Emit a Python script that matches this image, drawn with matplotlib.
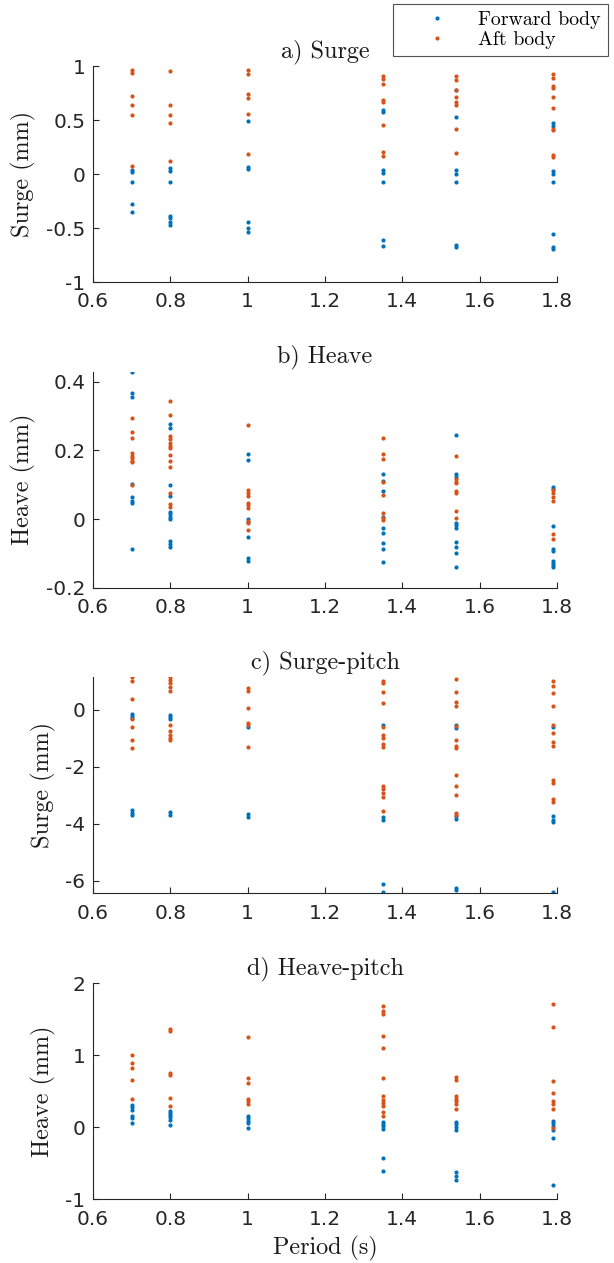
import matplotlib
matplotlib.use('Agg')
import matplotlib.pyplot as plt
from matplotlib.ticker import FuncFormatter

periods = [0.7, 0.8, 1.0, 1.35, 1.54, 1.79]

# a) surge, per period: forward body / aft body
surge_fwd = [[0.037, 0.02, -0.078, -0.276, -0.35],
             [0.056, 0.031, -0.071, -0.39, -0.41, -0.44, -0.47],
             [0.49, 0.062, 0.047, -0.44, -0.50, -0.54],
             [0.59, 0.57, 0.04, 0.006, -0.07, -0.61, -0.667],
             [0.775, 0.524, 0.04, 0.0, -0.074, -0.654, -0.68],
             [0.47, 0.446, 0.025, 0.0, -0.071, -0.555, -0.68, -0.695]]
surge_aft = [[0.967, 0.937, 0.72, 0.64, 0.55, 0.078],
             [0.95, 0.64, 0.546, 0.47, 0.118],
             [0.967, 0.93, 0.74, 0.70, 0.56, 0.19],
             [0.91, 0.88, 0.834, 0.69, 0.67, 0.45, 0.2, 0.164],
             [0.91, 0.874, 0.778, 0.716, 0.67, 0.642, 0.415, 0.198],
             [0.93, 0.887, 0.815, 0.797, 0.716, 0.61, 0.42, 0.405, 0.18, 0.16]]

# b) heave
heave_fwd = [[0.428, 0.366, 0.354, 0.103, 0.065, 0.052, 0.046, -0.087],
             [0.277, 0.264, 0.099, 0.067, 0.02, 0.014, 0.006, 0.0, -0.063, -0.072, -0.081],
             [0.19, 0.173, 0.001, -0.008, -0.052, -0.115, -0.121],
             [0.132, 0.112, 0.083, 0.006, -0.025, -0.042, -0.071, -0.086, -0.125],
             [0.246, 0.13, 0.121, -0.013, -0.018, -0.026, -0.066, -0.081, -0.099, -0.14],
             [0.093, 0.088, -0.021, -0.088, -0.094, -0.122, -0.128, -0.134, -0.139]]
heave_aft = [[0.293, 0.253, 0.236, 0.191, 0.184, 0.178, 0.17, 0.165, 0.099],
             [0.345, 0.303, 0.241, 0.232, 0.222, 0.214, 0.206, 0.187, 0.168, 0.151, 0.077, 0.043, 0.036],
             [0.275, 0.085, 0.077, 0.067, 0.047, 0.04, 0.033, -0.005, -0.013, -0.032],
             [0.235, 0.189, 0.175, 0.108, 0.069, 0.018, 0.003, -0.002],
             [0.183, 0.117, 0.109, 0.104, 0.081, 0.076, 0.024, 0.002],
             [0.085, 0.077, 0.065, 0.051, -0.045, -0.059]]

# c) surge-pitch
sp_fwd = [[-0.165, -0.235, -0.306, -3.53, -3.62, -3.69],
          [-0.19, -0.25, -0.31, -3.6, -3.69],
          [-0.59, -3.66, -3.76],
          [-0.54, -3.76, -3.86, -6.13, -6.39, -6.47],
          [-0.54, -0.64, -3.75, -3.84, -6.25, -6.32],
          [-0.6, -3.75, -3.86, -3.93, -6.42]]
sp_aft = [[1.15, 1.01, 0.39, -0.33, -0.6, -1.07, -1.34],
          [1.15, 1.05, 0.94, 0.81, 0.67, -0.53, -0.74, -0.89, -0.98, -1.06],
          [0.75, 0.66, 0.08, -0.48, -0.54, -1.32],
          [1.02, 0.95, 0.61, 0.24, -0.59, -0.87, -0.98, -1.19, -1.31, -2.67, -2.8, -2.92, -3.07, -3.54],
          [1.08, 0.61, 0.29, 0.12, -0.58, -1.07, -1.26, -1.35, -2.28, -2.68, -2.98, -3.62, -3.71],
          [1.02, 0.84, 0.59, 0.14, -0.54, -0.82, -1.12, -1.27, -2.48, -2.56, -3.12, -3.24]]

# d) heave-pitch
hp_fwd = [[0.31, 0.28, 0.245, 0.16, 0.134, 0.065],
          [0.227, 0.2, 0.167, 0.14, 0.1, 0.028],
          [0.153, 0.125, 0.088, 0.06, -0.005],
          [0.08, 0.046, 0.014, -0.023, -0.43, -0.6],
          [0.07, 0.042, 0.005, -0.03, -0.62, -0.67, -0.73],
          [0.088, 0.056, 0.023, -0.03, -0.153, -0.8]]
hp_aft = [[1.0, 0.89, 0.83, 0.66, 0.4],
          [1.36, 1.34, 0.76, 0.73, 0.41, 0.29],
          [1.26, 0.69, 0.62, 0.4, 0.36, 0.33],
          [1.68, 1.62, 1.58, 1.27, 1.1, 0.69, 0.43, 0.38, 0.34, 0.3, 0.21, 0.16],
          [0.7, 0.66, 0.44, 0.4, 0.37, 0.33, 0.26],
          [1.72, 1.39, 0.64, 0.48, 0.37, 0.32, 0.26, -0.005]]

titles = ['a) Surge', 'b) Heave', 'c) Surge-pitch', 'd) Heave-pitch']
ylabels = ['Surge (mm)', 'Heave (mm)', 'Surge (mm)', 'Heave (mm)']
ylims = [(-1, 1), (-0.2, 0.429), (-6.45, 1.14), (-1, 2)]
yticks = [[-1, -0.5, 0, 0.5, 1], [-0.2, 0, 0.2, 0.4], [-6, -4, -2, 0], [-1, 0, 1, 2]]
xticks = [0.6, 0.8, 1.0, 1.2, 1.4, 1.6, 1.8]

blue = '#0072BD'
orange = '#D95319'
grey = '#262626'
serif = 'cmr10'

fmt = FuncFormatter(lambda v, p: '%g' % v)

fig = plt.figure(figsize=(6.14, 12.63), dpi=100)
bottoms = [0.7767, 0.5347, 0.2927, 0.0504]
data = [(surge_fwd, surge_aft), (heave_fwd, heave_aft), (sp_fwd, sp_aft), (hp_fwd, hp_aft)]

for i in range(4):
    ax = fig.add_axes([0.1515, bottoms[i], 0.7557, 0.171])
    fwd, aft = data[i]
    for j, p in enumerate(periods):
        l1, = ax.plot([p] * len(fwd[j]), fwd[j], 'o', color=blue, ms=3.0, mew=0)
        l2, = ax.plot([p] * len(aft[j]), aft[j], 'o', color=orange, ms=3.0, mew=0)
    ax.set_xlim(0.6, 1.8)
    ax.set_ylim(*ylims[i])
    ax.set_xticks(xticks)
    ax.set_yticks(yticks[i])
    ax.xaxis.set_major_formatter(fmt)
    ax.yaxis.set_major_formatter(fmt)
    ax.spines['top'].set_visible(False)
    ax.spines['right'].set_visible(False)
    for s in ['left', 'bottom']:
        ax.spines[s].set_color(grey)
        ax.spines[s].set_linewidth(0.8)
    ax.tick_params(direction='in', length=4, width=0.8, colors=grey, labelsize=14.5)
    ax.tick_params(axis='x', pad=7.5)
    ax.tick_params(axis='y', pad=5.5)
    ax.set_title(titles[i], fontfamily=serif, fontsize=17.4, color='#1a1a1a', pad=6.5)
    ax.set_ylabel(ylabels[i], fontfamily=serif, fontsize=17.4, color='#1a1a1a', labelpad=7)
    if i == 0:
        leg = fig.legend([l1, l2], ['Forward body', 'Aft body'],
                         loc='upper right', bbox_to_anchor=(0.990, 0.9968),
                         borderaxespad=0, prop={'family': serif, 'size': 14.3},
                         frameon=True, fancybox=False, edgecolor=grey,
                         handlelength=3.7, handletextpad=0.25, borderpad=0.35,
                         labelspacing=0.12)
        leg.get_frame().set_linewidth(0.8)
    if i == 3:
        ax.set_xlabel('Period (s)', fontfamily=serif, fontsize=17.4, color='#1a1a1a', labelpad=5)

fig.savefig('out.png', dpi=100)
